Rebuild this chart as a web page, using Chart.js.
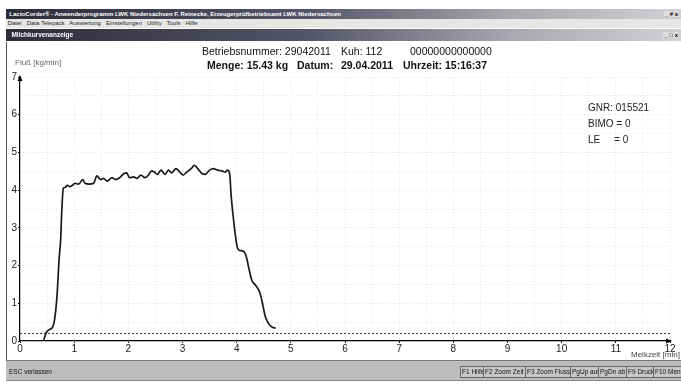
<!DOCTYPE html>
<html>
<head>
<meta charset="utf-8">
<script src="https://cdn.jsdelivr.net/npm/chart.js@4.4.0/dist/chart.umd.min.js"></script>
<style>
body{margin:0;width:681px;height:390px;overflow:hidden;background:#fff;font-family:"Liberation Sans",Arial,sans-serif;position:relative}
#c{position:absolute;left:0;top:0}
.t{position:absolute;white-space:pre;color:#111}
.tbar{position:absolute;left:6px;width:675px;color:#fff;font-size:6px;font-weight:bold;white-space:pre;overflow:hidden;
  background:linear-gradient(to right,#2c2c3a 0%,#55556a 45%,#a8a8b0 75%,#d0d0d4 100%)}
.btns{position:absolute;right:2px;top:2px;font-size:6px;color:#000;background:#ddd;padding:0 1px;line-height:6px}
#menu{position:absolute;left:6px;width:675px;background:#e6e6e6;font-size:6px;color:#222;white-space:pre}
#frame{position:absolute;left:6px;top:42px;width:0;height:318px;border-left:1px solid #555}
#status{position:absolute;left:6px;top:360px;width:675px;height:19px;background:#bdbdbd;border-top:1px solid #777;border-bottom:1px solid #888;font-size:6.5px;color:#111}
.key{position:absolute;top:5px;height:10px;line-height:10px;border:1px solid #666;background:#c8c8c8;padding:0 1px;white-space:pre;overflow:hidden}
.h1{font-size:10.5px;top:45px}
.h2{font-size:10.5px;top:59px;font-weight:bold}
</style>
</head>
<body>
<canvas id="c" width="681" height="390"></canvas>

<div class="tbar" style="top:9px;height:10px;line-height:10px">  LactoCorder® - Anwenderprogramm LWK Niedersachsen F. Reinecke, Erzeugerprüfbetriebsamt LWK Niedersachsen<span class="btns">_ # x</span></div>
<div id="menu" style="top:19px;height:9px;line-height:9px"> Datei   Data Telepack   Auswertung   Einstellungen   Utility   Tools   Hilfe</div>
<div class="tbar" style="top:29px;height:12px;line-height:12px;font-size:6.5px">   Milchkurvenanzeige<span class="btns" style="top:3px">_ □ x</span></div>
<div id="frame"></div>

<div class="t h1" style="left:202px">Betriebsnummer: 29042011</div>
<div class="t h1" style="left:341px">Kuh: 112</div>
<div class="t h1" style="left:410px">00000000000000</div>
<div class="t h2" style="left:207px">Menge: 15.43 kg</div>
<div class="t h2" style="left:297px">Datum:</div>
<div class="t h2" style="left:341px">29.04.2011</div>
<div class="t h2" style="left:403px">Uhrzeit: 15:16:37</div>

<div class="t" style="left:15px;top:58px;font-size:8px;color:#666">Fluß [kg/min]</div>
<div class="t" style="left:631px;top:350px;font-size:8px;color:#444">Melkzeit [min]</div>

<div class="t" style="left:588px;top:102px;font-size:10px;color:#222">GNR: 015521</div>
<div class="t" style="left:588px;top:118px;font-size:10px;color:#222">BIMO = 0</div>
<div class="t" style="left:588px;top:134px;font-size:10px;color:#222">LE     = 0</div>

<div id="status">
  <span class="t" style="left:3px;top:7px">ESC verlassen</span>
  <span class="key" style="left:454px">F1 Hilfe</span>
  <span class="key" style="left:477px">F2 Zoom Zeit</span>
  <span class="key" style="left:519px">F3 Zoom Fluss</span>
  <span class="key" style="left:564px">PgUp auf</span>
  <span class="key" style="left:592px">PgDn ab</span>
  <span class="key" style="left:620px">F9 Druck</span>
  <span class="key" style="left:647px;width:30px">F10 Menü</span>
</div>

<script>
// milk flow curve
const flowTime = [0, 0.42, 0.49, 0.54, 0.60, 0.63, 0.66, 0.69, 0.72, 0.75,
  0.77, 0.80, 0.83, 0.875, 0.92, 1.02, 1.08, 1.16, 1.20, 1.28,
  1.36, 1.42, 1.49, 1.54, 1.61, 1.70, 1.76, 1.84, 1.92, 1.97,
  2.02, 2.10, 2.16, 2.23, 2.31, 2.37, 2.43, 2.48, 2.54, 2.60,
  2.68, 2.74, 2.80, 2.88, 2.95, 3.01, 3.08, 3.16, 3.22, 3.28,
  3.36, 3.42, 3.50, 3.57, 3.65, 3.73, 3.79, 3.83, 3.87, 3.90,
  3.93, 3.98, 4.01, 4.04, 4.10, 4.14, 4.18, 4.22, 4.28, 4.35,
  4.41, 4.45, 4.49, 4.53, 4.59, 4.65, 4.72];
const flowRate = [0, 0, 0.24, 0.30, 0.36, 0.50, 0.81, 1.34, 2.14, 2.67,
  3.4, 4.05, 4.07, 4.13, 4.09, 4.18, 4.16, 4.28, 4.18, 4.16,
  4.18, 4.38, 4.28, 4.31, 4.24, 4.33, 4.28, 4.33, 4.44, 4.46,
  4.33, 4.35, 4.31, 4.40, 4.33, 4.40, 4.51, 4.48, 4.42, 4.53,
  4.42, 4.53, 4.46, 4.57, 4.48, 4.40, 4.48, 4.57, 4.66, 4.57,
  4.44, 4.42, 4.53, 4.57, 4.53, 4.51, 4.48, 4.53, 4.44, 3.82,
  3.38, 2.76, 2.49, 2.41, 2.39, 2.36, 2.23, 1.96, 1.61, 1.48,
  1.34, 1.17, 0.90, 0.64, 0.46, 0.37, 0.34];
const thresholdTime = [0, 12];
const thresholdFlow = [0.2, 0.2];
const xMin = 0, xMax = 12, yMin = 0, yMax = 7;

const flowPoints = flowTime.map((t, i) => ({x: t, y: flowRate[i]}));
const threshPoints = thresholdTime.map((t, i) => ({x: t, y: thresholdFlow[i]}));

const isWhole = v => Math.abs(v - Math.round(v)) < 1e-6;

// little arrow heads at the axis ends
const axisArrows = {
  id: 'axisArrows',
  afterDraw(chart) {
    const ctx = chart.ctx, a = chart.chartArea;
    ctx.save();
    ctx.fillStyle = '#000';
    ctx.beginPath();
    ctx.moveTo(a.left, a.top - 2);
    ctx.lineTo(a.left - 2.5, a.top + 4);
    ctx.lineTo(a.left + 2.5, a.top + 4);
    ctx.closePath();
    ctx.fill();
    ctx.beginPath();
    ctx.moveTo(a.right + 2, a.bottom);
    ctx.lineTo(a.right - 4, a.bottom - 2.5);
    ctx.lineTo(a.right - 4, a.bottom + 2.5);
    ctx.closePath();
    ctx.fill();
    ctx.restore();
  }
};

new Chart(document.getElementById('c'), {
  type: 'line',
  data: {
    datasets: [{
      data: flowPoints,
      borderColor: '#1a1a1a',
      borderWidth: 1.7,
      pointRadius: 0,
      cubicInterpolationMode: 'monotone',
      fill: false
    }, {
      data: threshPoints,
      borderColor: '#333',
      borderWidth: 1,
      borderDash: [2, 2],
      pointRadius: 0,
      fill: false
    }]
  },
  options: {
    responsive: false,
    animation: false,
    layout: {padding: {top: 77, right: 11, left: 0, bottom: 0}},
    plugins: {legend: {display: false}, title: {display: false}, tooltip: {enabled: false}},
    scales: {
      x: {
        type: 'linear', min: xMin, max: xMax,
        afterFit(s) { s.height = 49; },
        ticks: {
          stepSize: 0.5, autoSkip: false, maxRotation: 0, padding: 0,
          color: '#222', font: {family: 'Liberation Sans', size: 10},
          callback: v => isWhole(v) ? String(Math.round(v)) : ''
        },
        grid: {
          color: '#e6e6e6', lineWidth: 1, tickLength: 2,
          tickColor: c => isWhole(c.tick.value) ? '#000' : 'rgba(0,0,0,0)'
        },
        border: {color: '#000', width: 1.2, dash: [1, 2]}
      },
      y: {
        min: yMin, max: yMax,
        afterFit(s) { s.width = 20; },
        ticks: {
          stepSize: 0.5, autoSkip: false, padding: 1,
          color: '#222', font: {family: 'Liberation Sans', size: 10},
          callback: v => isWhole(v) ? String(Math.round(v)) : ''
        },
        grid: {
          color: '#e6e6e6', lineWidth: 1, tickLength: 2,
          tickColor: c => isWhole(c.tick.value) ? '#000' : 'rgba(0,0,0,0)'
        },
        border: {color: '#000', width: 1.2, dash: [1, 2]}
      }
    }
  },
  plugins: [axisArrows]
});
</script>
</body>
</html>
